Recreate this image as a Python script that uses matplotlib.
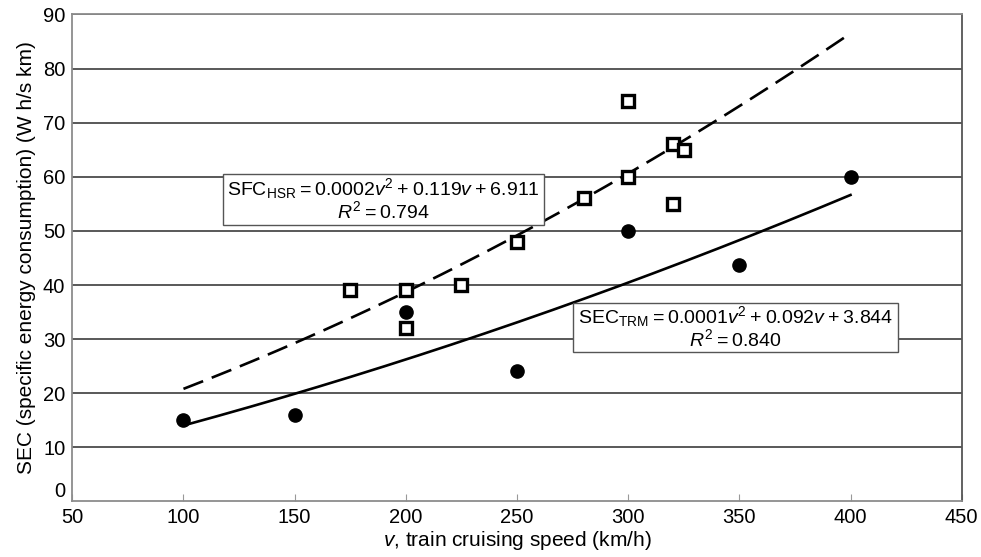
import numpy as np
import matplotlib.pyplot as plt
from matplotlib.patches import Rectangle

plt.rcParams['font.family'] = 'Liberation Sans'
plt.rcParams['mathtext.fontset'] = 'custom'
plt.rcParams['mathtext.rm'] = 'Liberation Sans'
plt.rcParams['mathtext.it'] = 'Liberation Sans:italic'

# high speed rail measurements (squares)
hsr_v = [175, 200, 200, 225, 250, 280, 300, 300, 320, 325, 320]
hsr_sec = [39, 39, 32, 40, 48, 56, 74, 60, 66, 65, 55]

# conventional train measurements (dots)
trm_v = [100, 150, 200, 250, 300, 350, 400]
trm_sec = [15, 16, 35, 24.2, 50, 43.7, 60]

# quadratic fits
hsr_coef = [0.0002, 0.119, 6.911]
trm_coef = [0.0001, 0.092, 3.844]

fig = plt.figure(figsize=(9.81, 5.57), dpi=100)
ax = fig.add_axes([0.0737, 0.0997, 0.9066, 0.8743])

for y in range(10, 100, 10):
    ax.axhline(y, color='#3c3c3c', lw=1.2, zorder=1)

vv = np.linspace(100, 400, 200)
ax.plot(vv, np.polyval(hsr_coef, vv), color='black', lw=1.9,
        dashes=(8, 3.5), zorder=2)
ax.plot(vv, np.polyval(trm_coef, vv), color='black', lw=1.9, zorder=2)

ax.plot(hsr_v, hsr_sec, 's', ms=8.5, mfc='white', mec='black', mew=2.4,
        zorder=3)
ax.plot(trm_v, trm_sec, 'o', ms=9.5, color='black', zorder=3)

# equation boxes
ax.add_patch(Rectangle((117.6, 51.1), 144.5, 9.4, fc='white', ec='#555555',
                       lw=1.0, zorder=4))
ax.add_patch(Rectangle((275.3, 27.6), 146.2, 9.1, fc='white', ec='#555555',
                       lw=1.0, zorder=4))
sp = '\u2009'
ax.text(189.9, 55.8,
        f'SFC$_{{\\mathrm{{HSR}}}}${sp}={sp}0.0002$v^2${sp}+{sp}0.119$v${sp}+{sp}6.911'
        f'\n$R^2${sp}={sp}0.794',
        ha='center', va='center', fontsize=14, linespacing=0.95, zorder=5)
ax.text(348.4, 32.15,
        f'SEC$_{{\\mathrm{{TRM}}}}${sp}={sp}0.0001$v^2${sp}+{sp}0.092$v${sp}+{sp}3.844'
        f'\n$R^2${sp}={sp}0.840',
        ha='center', va='center', fontsize=14, linespacing=0.95, zorder=5)

ax.set_xlim(50, 450)
ax.set_ylim(0, 90)
ax.set_xticks(range(50, 451, 50))
ax.set_yticks(range(0, 91, 10))
ax.tick_params(axis='x', direction='in', length=5, color='#999999',
               labelsize=14.5, pad=5)
ax.tick_params(axis='y', length=0, labelsize=14.5, pad=5)
ax.get_yticklabels()[0].set_va('bottom')
for side in ['left', 'bottom', 'right', 'top']:
    ax.spines[side].set_color('#8c8c8c')
    ax.spines[side].set_linewidth(1.3)
ax.spines['right'].set_color('#555555')

ax.set_xlabel('$v$, train cruising speed (km/h)', fontsize=15, labelpad=1)
ax.set_ylabel('SEC (specific energy consumption) (W h/s km)', fontsize=15,
              labelpad=5)

fig.savefig('out.png', dpi=100)
